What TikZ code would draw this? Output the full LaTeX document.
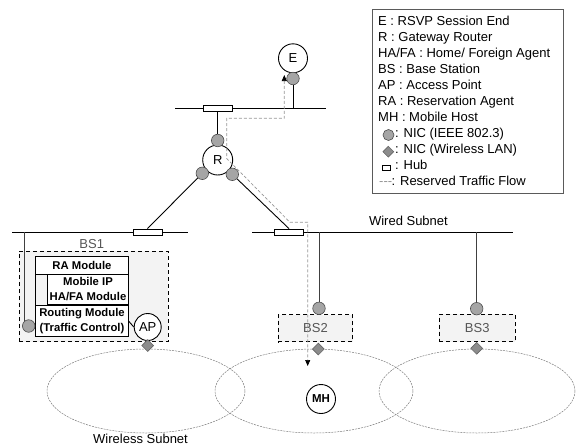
\documentclass[tikz,border=0pt]{standalone}
\usepackage{fontspec}
\setmainfont{Liberation Sans}
\usepackage{tikz}
\usetikzlibrary{shapes.geometric, arrows.meta, positioning, calc, fit}
\definecolor{nicgray}{RGB}{165,165,165}
\definecolor{wnicgray}{RGB}{140,140,140}
\definecolor{bsfill}{RGB}{243,243,243}
\definecolor{lblgray}{RGB}{85,85,85}
\definecolor{flowgray}{RGB}{150,150,150}
\definecolor{cellgray}{RGB}{125,125,125}
\definecolor{framegray}{RGB}{90,90,90}
\tikzset{
  host/.style={circle, draw, fill=white, line width=0.9pt, inner sep=0pt,
    minimum size=29pt, font=\fontsize{13}{15}\selectfont},
  nic/.style={circle, draw=black!70, fill=nicgray, inner sep=0pt,
    minimum size=12.5pt, line width=0.6pt},
  wnic/.style={diamond, draw=black!60, fill=wnicgray, inner sep=0pt,
    minimum size=12pt, line width=0.6pt},
  hub/.style={rectangle, draw, fill=white, inner sep=0pt,
    minimum width=29pt, minimum height=6pt, line width=0.8pt},
  bsbox/.style={rectangle, draw, dash pattern=on 4pt off 3pt, fill=bsfill,
    line width=0.8pt, inner sep=0pt},
  bslabel/.style={text=lblgray, font=\fontsize{13}{15}\selectfont, inner sep=0pt},
  module/.style={rectangle, draw, fill=white, line width=0.9pt, inner sep=0pt,
    align=center, font=\fontsize{11.3}{15}\selectfont\bfseries},
  bus/.style={line width=0.9pt},
  link/.style={line width=0.9pt},
  tap/.style={line width=0.9pt, color=black!75},
  cell/.style={draw=cellgray, dash pattern=on 2pt off 1pt, line width=0.5pt},
  flow/.style={draw=flowgray, dash pattern=on 3pt off 2pt, line width=0.7pt,
    {Triangle[length=6pt,width=5pt,color=black]}-{Triangle[length=6pt,width=5pt,color=black]}},
  legtext/.style={font=\fontsize{13}{16}\selectfont, inner sep=0pt, anchor=base west}
}
\begin{document}
\begin{tikzpicture}[x=1pt, y=-1pt]
  \useasboundingbox (0,0) rectangle (576,445);
  % ── Wireless cells ──
  \draw[cell] (146,391) ellipse [x radius=99, y radius=42];
  \draw[cell] (314,391) ellipse [x radius=99, y radius=42];
  \draw[cell] (477,391) ellipse [x radius=98, y radius=42];
  \node[bslabel, text=black, anchor=base west] (wless) at (93,443.5) {Wireless Subnet};
  % ── Wired buses ──
  \draw[bus] (175,108.3) coordinate (topL) -- (325.7,108.3) coordinate (topR);
  \draw[bus] (12,232) coordinate (busAL) -- (188,232) coordinate (busAR);
  \draw[bus] (252,232) coordinate (busBL) -- (513.3,232) coordinate (busBR);
  \node[hub] (hubT) at (217.7,108.3) {};
  \node[hub] (hubA) at (147.5,232) {};
  \node[hub] (hubB) at (289,232) {};
  \node[legtext, anchor=base east] (wired) at (448,225.5) {Wired Subnet};
  % ── Base stations ──
  \node[bsbox, minimum width=149pt, minimum height=90.7pt] (bs1) at (93.5,296.3) {};
  \node[bslabel] (bs1lbl) at (91.7,244) {BS1};
  \node[bsbox, minimum width=74.4pt, minimum height=27.2pt] (bs2) at (315.5,328.1) {};
  \node[bslabel] at (bs2) {BS2};
  \node[bsbox, minimum width=75.7pt, minimum height=27.4pt] (bs3) at (477.2,328) {};
  \node[bslabel] at (bs3) {BS3};
  % modules inside BS1
  \node[module, minimum width=92.6pt, minimum height=17.6pt] (ra) at (82,265.7) {RA Module};
  \node[module, minimum width=80.6pt, minimum height=30pt] (mip) at (88,289.4) {Mobile IP\\HA/FA Module};
  \node[module, minimum width=92.6pt, minimum height=31.4pt] (routing) at (82,321.2) {Routing Module\\(Traffic Control)};
  \draw[link] (ra.south west) -- (routing.north west);
  \node[host, minimum size=27pt] (ap) at (147.7,327) {AP};
  \draw[link] (routing.east) -- (ap.west);
  % ── NICs ──
  \node[nic] (nicA) at (28.7,326) {};
  \node[nic] (nicB) at (319,308.3) {};
  \node[nic] (nicC) at (476.7,308.7) {};
  \coordinate (tapA) at (24,232);
  \coordinate (tapB) at (319,232);
  \coordinate (tapC) at (476.7,232);
  \draw[tap] (tapA) -- (tapA |- nicA.135);
  \draw[tap] (tapB) -- (nicB);
  \draw[tap] (tapC) -- (nicC);
  \node[wnic] (wA) at (147.7,345.5) {};
  \node[wnic] (wB) at (318.3,349) {};
  \node[wnic] (wC) at (476.7,348.3) {};
  % ── Router and session end ──
  \node[host, minimum size=30pt] (R) at (217.7,160) {R};
  \node[nic] (nicRt) at (217.7,140.5) {};
  \node[nic] (nicRl) at (202.3,173.3) {};
  \node[nic] (nicRr) at (232.3,174.3) {};
  \draw[link] (hubT) -- (nicRt);
  \draw[link] (nicRl) -- (hubA.north);
  \draw[link] (nicRr) -- (hubB.north);
  \node[host] (E) at (293,58.3) {E};
  \node[nic] (nicE) at (293,78.5) {};
  \coordinate (tapE) at (293,108.3);
  \draw[link] (tapE) -- (nicE);
  \node[host, minimum size=29pt, font=\fontsize{11.5}{13}\selectfont\bfseries] (MH) at (321,399) {MH};
  % ── Reserved flow ──
  \coordinate (flowE) at (284.3,75);
  \coordinate (flowMH) at (307.7,366);
  \draw[flow] (flowE) -- (284.3,118.3) -- (226.7,118.3) -- (226.7,158.5)
    -- (290,222.3) -- (307.7,222.3) -- (flowMH);
  % ── Legend ──
  \draw[line width=0.8pt, color=framegray] (372,9) rectangle (563,193);
  \node[legtext] (l1) at (378,25.7) {E : RSVP Session End};
  \node[legtext] (l2) at (378,41.65) {R : Gateway Router};
  \node[legtext] (l3) at (378,57.6) {HA/FA : Home/ Foreign Agent};
  \node[legtext] (l4) at (378,73.55) {BS : Base Station};
  \node[legtext] (l5) at (378,89.5) {AP : Access Point};
  \node[legtext] (l6) at (378,105.45) {RA : Reservation Agent};
  \node[legtext] (l7) at (378,121.4) {MH : Mobile Host};
  \node[nic, minimum size=11pt] (kn) at (388.5,135) {};
  \node[legtext] (l8) at (395,137.35) {: NIC (IEEE 802.3)};
  \node[wnic, minimum size=11pt] (kw) at (388.3,151.7) {};
  \node[legtext] (l9) at (395,153.3) {: NIC (Wireless LAN)};
  \node[hub, minimum width=8pt, minimum height=5pt, line width=0.7pt] (kh) at (386,167.7) {};
  \node[legtext] (l10) at (395,169.25) {: Hub};
  \node[legtext, text=flowgray] (kf) at (379,185.2) {-{}-{}-};
  \node[legtext] (l11) at (391.5,185.2) {: Reserved Traffic Flow};
\end{tikzpicture}
\end{document}
